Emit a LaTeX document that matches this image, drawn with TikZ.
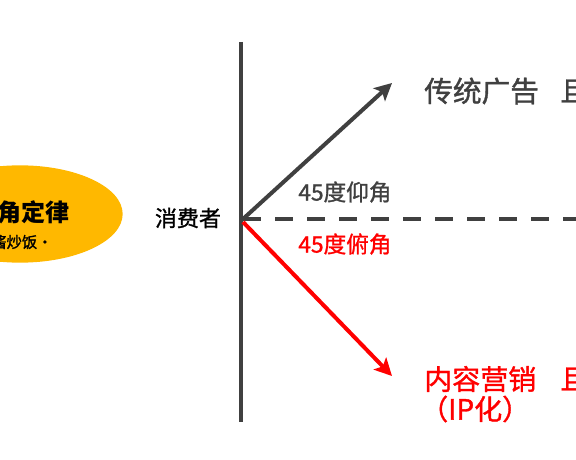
\documentclass[tikz,border=0pt]{standalone}
\usepackage{fontspec}
\setmainfont{Noto Sans CJK SC}
\newfontfamily\medfont[FakeBold=1.2]{Noto Sans CJK SC}
\usetikzlibrary{arrows.meta,shapes.geometric}
\definecolor{axisgray}{HTML}{404040}
\definecolor{gold}{HTML}{FFB800}
\definecolor{redc}{HTML}{FF0000}
\begin{document}
\begin{tikzpicture}[x=0.75pt,y=-0.75pt,
  axis/.style={axisgray,line width=3pt},
  arr/.style={line width=3pt,-{Stealth[length=13pt,width=13pt,inset=3pt]}},
  lbl/.style={inner sep=0pt,anchor=west}]
\useasboundingbox (0,0) rectangle (576,460);
\begin{scope}
\clip (0,0) rectangle (576,460);
\node[ellipse,fill=gold,minimum width=154pt,minimum height=73pt,inner sep=0pt] (ell) at (20,214) {};
\node[lbl,font=\fontsize{18pt}{18pt}\bfseries] (title) at (-3,212) {角定律};
\node[lbl,font=\fontsize{11.5pt}{11.5pt}\medfont] (sub) at (-9,242) {酱炒饭·};
\node[lbl,font=\fontsize{21pt}{21pt}\medfont,text=axisgray] (cut1) at (560,91) {且};
\node[lbl,font=\fontsize{21pt}{21pt}\medfont,text=redc] (cut2) at (560,379) {且};
\end{scope}
\coordinate (top) at (241,42);
\coordinate (bot) at (241,422);
\coordinate (o) at (243,219);
\coordinate (dashend) at (576,219);
\coordinate (up) at (392,83);
\coordinate (down) at (392,376);
\draw[axis] (top) -- (bot);
\draw[axisgray,line width=2.4pt,dash pattern=on 13.5pt off 10.5pt] (o) -- (dashend);
\draw[arr,axisgray] (o) -- (up);
\draw[arr,redc] (243,222) -- (down);
\node[font=\fontsize{16.5pt}{16.5pt}\medfont] (cons) at (188,218) {消费者};
\node[font=\fontsize{17pt}{17pt}\medfont,text=axisgray] (ang1) at (345,192) {45度仰角};
\node[font=\fontsize{17pt}{17pt}\medfont,text=redc] (ang2) at (345,244) {45度俯角};
\node[lbl,font=\fontsize{21.5pt}{21.5pt}\medfont,text=axisgray] (trad) at (424,91) {传统广告};
\node[lbl,font=\fontsize{21pt}{21pt}\medfont,text=redc] (cont) at (424,379) {内容营销};
\node[lbl,font=\fontsize{21pt}{21pt}\medfont,text=redc] (ip) at (420,409) {（IP化）};
\end{tikzpicture}
\end{document}
